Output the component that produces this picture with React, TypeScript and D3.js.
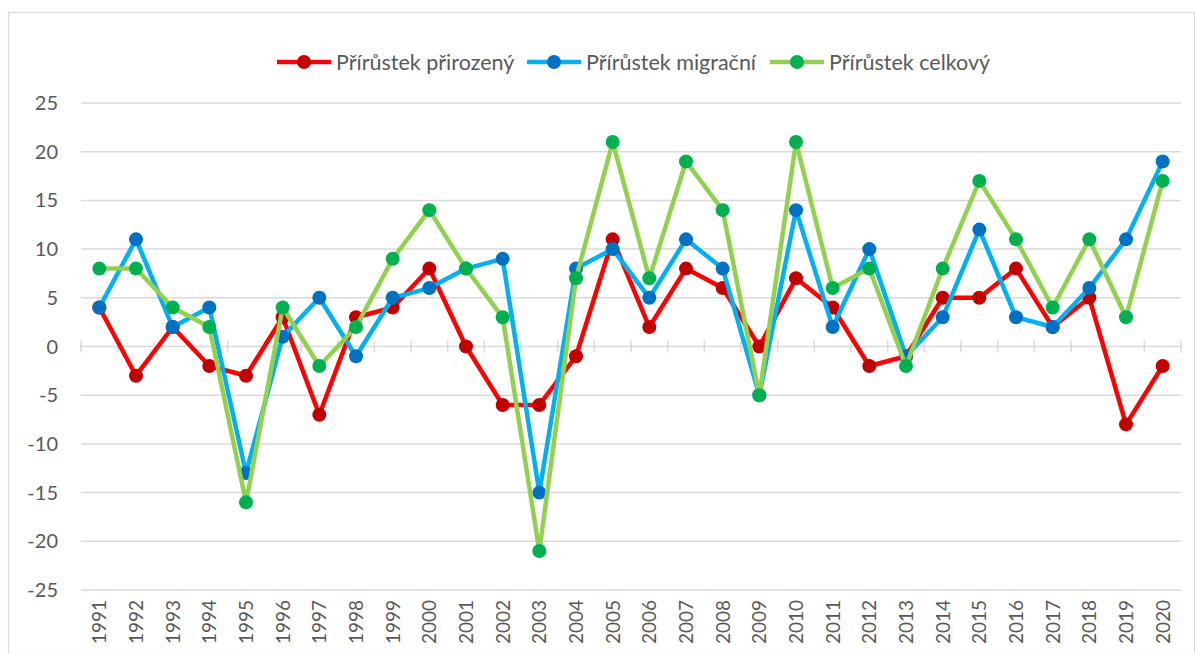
import React, { useRef, useEffect } from 'react';
import * as d3 from 'd3';

const years = ['1991','1992','1993','1994','1995','1996','1997','1998','1999','2000','2001','2002','2003','2004','2005','2006','2007','2008','2009','2010','2011','2012','2013','2014','2015','2016','2017','2018','2019','2020'];
const natural = [4, -3, 2, -2, -3, 3, -7, 3, 4, 8, 0, -6, -6, -1, 11, 2, 8, 6, 0, 7, 4, -2, -1, 5, 5, 8, 2, 5, -8, -2];
const migration = [4, 11, 2, 4, -13, 1, 5, -1, 5, 6, 8, 9, -15, 8, 10, 5, 11, 8, -5, 14, 2, 10, -1, 3, 12, 3, 2, 6, 11, 19];
const total = [8, 8, 4, 2, -16, 4, -2, 2, 9, 14, 8, 3, -21, 7, 21, 7, 19, 14, -5, 21, 6, 8, -2, 8, 17, 11, 4, 11, 3, 17];
const yTicks = [-25, -20, -15, -10, -5, 0, 5, 10, 15, 20, 25];

const seriesNames = ['Přírůstek přirozený', 'Přírůstek migrační', 'Přírůstek celkový'];
const seriesValues = [natural, migration, total];
const lineColors = ['#FF0000', '#00B0F0', '#92D050'];
const markerColors = ['#C00000', '#0070C0', '#00B050'];

const App = () => {
  const svgRef = useRef(null);

  useEffect(() => {
    const width = 1195;
    const height = 653;
    const svg = d3.select(svgRef.current);
    svg.selectAll('*').remove();
    const font = 'Lato, "Open Sans", sans-serif';

    svg.append('rect')
      .attr('x', 8.5).attr('y', 12.5)
      .attr('width', width - 9).attr('height', height - 12)
      .attr('fill', '#fff').attr('stroke', '#d9d9d9').attr('stroke-width', 1.2);

    const x = d3.scaleBand().domain(years).range([81, 1181]);
    const y = d3.scaleLinear().domain([-25, 25]).range([590, 103]);
    const cx = (d: string) => x(d)! + x.bandwidth() / 2;

    // gridlines
    svg.append('g')
      .selectAll('line')
      .data(yTicks)
      .enter()
      .append('line')
      .attr('x1', 81).attr('x2', 1181)
      .attr('y1', d => y(d)).attr('y2', d => y(d))
      .attr('stroke', '#d9d9d9').attr('stroke-width', 1.5);

    // tick marks on zero axis
    const bounds = years.map(d => x(d)!).concat([1181]);
    svg.append('g')
      .selectAll('line')
      .data(bounds)
      .enter()
      .append('line')
      .attr('x1', d => d).attr('x2', d => d)
      .attr('y1', y(0) - 6).attr('y2', y(0) + 6)
      .attr('stroke', '#d9d9d9').attr('stroke-width', 1.5);

    // y labels
    svg.append('g')
      .selectAll('text')
      .data(yTicks)
      .enter()
      .append('text')
      .attr('x', 58).attr('y', d => y(d))
      .attr('dy', '0.35em')
      .attr('text-anchor', 'end')
      .attr('font-family', font).attr('font-size', 20)
      .attr('fill', '#595959')
      .text(d => d);

    // x labels
    svg.append('g')
      .selectAll('text')
      .data(years)
      .enter()
      .append('text')
      .attr('transform', d => `translate(${cx(d)}, 600) rotate(-90)`)
      .attr('dy', '0.36em')
      .attr('text-anchor', 'end')
      .attr('font-family', font).attr('font-size', 19)
      .attr('fill', '#595959')
      .text(d => d);

    const line = d3.line<number>()
      .x((d, i) => cx(years[i]))
      .y(d => y(d));

    seriesValues.forEach((vals, s) => {
      const g = svg.append('g');
      g.append('path')
        .datum(vals)
        .attr('d', line)
        .attr('fill', 'none')
        .attr('stroke', lineColors[s])
        .attr('stroke-width', 4.5)
        .attr('stroke-linejoin', 'round');
      g.selectAll('circle')
        .data(vals)
        .enter()
        .append('circle')
        .attr('cx', (d, i) => cx(years[i]))
        .attr('cy', d => y(d))
        .attr('r', 7)
        .attr('fill', markerColors[s]);
    });

    // legend
    const legendX = [277, 527, 770];
    const legend = svg.append('g');
    seriesNames.forEach((name, s) => {
      const lx = legendX[s];
      legend.append('line')
        .attr('x1', lx).attr('x2', lx + 54)
        .attr('y1', 62).attr('y2', 62)
        .attr('stroke', lineColors[s]).attr('stroke-width', 4.5);
      legend.append('circle')
        .attr('cx', lx + 27).attr('cy', 62).attr('r', 7)
        .attr('fill', markerColors[s]);
      legend.append('text')
        .attr('x', lx + 59).attr('y', 62)
        .attr('dy', '0.35em')
        .attr('font-family', font).attr('font-size', 21.5)
        .attr('fill', '#595959')
        .text(name);
    });
  }, []);

  return (
    <svg ref={svgRef} width={1195} height={653} style={{ position: 'absolute', left: 0, top: 0 }}></svg>
  );
};

export default App;
